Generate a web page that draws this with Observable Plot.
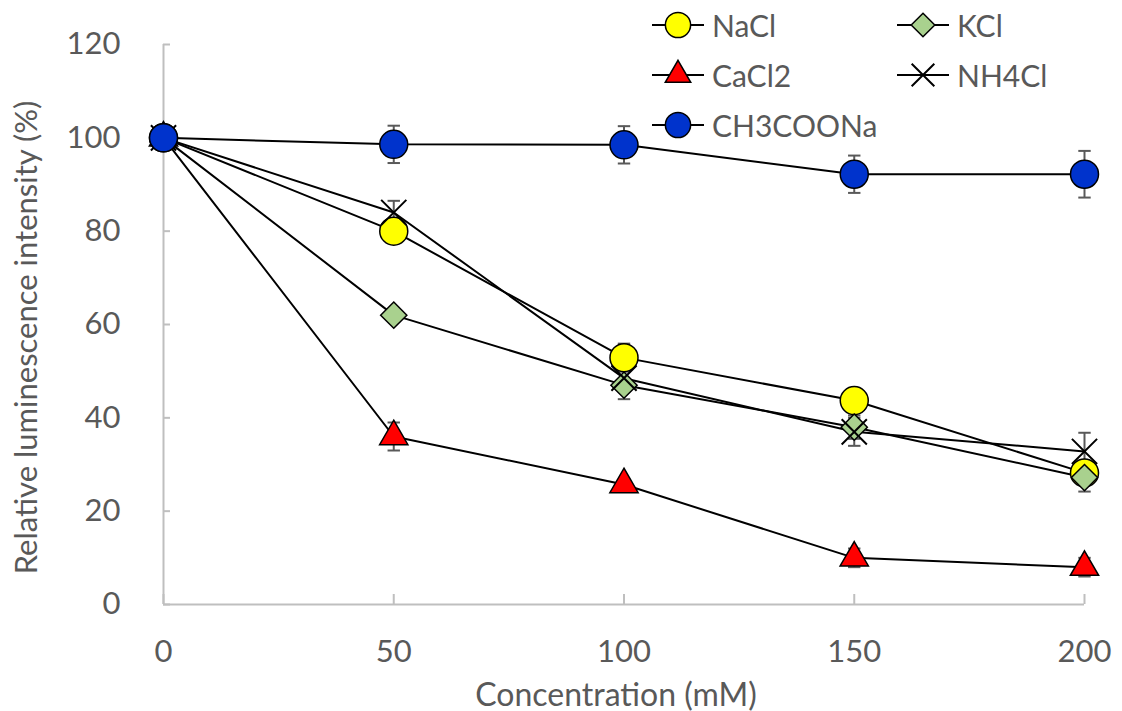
<!DOCTYPE html>
<html>
<head>
<meta charset="utf-8">
<script src="https://cdn.jsdelivr.net/npm/d3@7"></script>
<script src="https://cdn.jsdelivr.net/npm/@observablehq/plot@0.6"></script>
<style>
  html, body { margin: 0; padding: 0; background: #fff; }
  #wrap { position: relative; width: 1122px; height: 711px; font-family: Lato, "Open Sans", sans-serif; }
  #legend { position: absolute; left: 650px; top: 0px; display: grid; grid-template-columns: 245px 170px; grid-auto-rows: 50px; }
  .item { display: flex; align-items: center; height: 50px; font-size: 30px; color: #595959; }
  .item svg { flex: none; margin-right: 6px; }
</style>
</head>
<body>
<div id="wrap"><div id="legend"></div></div>
<script>
const concentrations = [0, 50, 100, 150, 200];
const seriesNames = ["NaCl", "KCl", "CaCl2", "NH4Cl", "CH3COONa"];
const nacl     = [100, 80.0, 52.9, 43.7, 28.2];
const kcl      = [100, 62.0, 47.0, 38.0, 27.2];
const cacl2    = [100, 36.0, 25.7, 10.0, 8.0];
const nh4cl    = [100, 84.0, 48.5, 37.0, 32.8];
const ch3coona = [100, 98.6, 98.5, 92.2, 92.2];
const naclErr     = [1, 1.5, 3, 1.5, 2];
const kclErr      = [1, 1, 3, 2.5, 3];
const cacl2Err    = [1, 3, 1, 2, 2];
const nh4clErr    = [2, 2.5, 2, 3, 4];
const ch3coonaErr = [2, 4, 4, 4, 5];
const yTicks = [0, 20, 40, 60, 80, 100, 120];
const xTicks = [0, 50, 100, 150, 200];
const xTitle = "Concentration (mM)";
const yTitle = "Relative luminescence intensity (%)";

const seriesValues = [nacl, kcl, cacl2, nh4cl, ch3coona];
const seriesErrors = [naclErr, kclErr, cacl2Err, nh4clErr, ch3coonaErr];
const seriesFill = ["#ffff00", "#a9d18e", "#ff0000", "none", "#0033cc"];
const seriesSymbol = ["circle", "diamond2", "triangle", "times", "circle"];
const seriesR = [14, 11.8, 10.5, 11.5, 14];

const data = [];
seriesNames.forEach((name, i) => {
  concentrations.forEach((c, j) => {
    data.push({series: name, idx: i, x: c, y: seriesValues[i][j], err: seriesErrors[i][j]});
  });
});

const capSymbol = {draw(ctx, size) { const w = Math.sqrt(size) * 0.5; ctx.moveTo(-w, 0); ctx.lineTo(w, 0); }};

const markerMarks = seriesNames.map((name, i) => Plot.dot(data.filter(d => d.idx === i), {
  x: "x", y: "y", symbol: () => seriesSymbol[i], r: seriesR[i],
  fill: seriesFill[i], stroke: "#000", strokeWidth: seriesSymbol[i] === "times" ? 2 : 1.5
}));

const chart = Plot.plot({
  width: 1122, height: 711,
  marginLeft: 163, marginRight: 38, marginTop: 44, marginBottom: 107,
  style: {fontFamily: "Lato, 'Open Sans', sans-serif", fontSize: "31px", color: "#595959", background: "#fff"},
  x: {domain: [0, 200]},
  y: {domain: [0, 120]},
  marks: [
    Plot.ruleX([0], {stroke: "#bfbfbf", strokeWidth: 2}),
    Plot.ruleY([0], {stroke: "#bfbfbf", strokeWidth: 2}),
    Plot.axisX({ticks: xTicks, tickSize: -10, text: null, label: null, stroke: "#bfbfbf", strokeWidth: 2}),
    Plot.axisX({ticks: xTicks, tickSize: 0, tickPadding: 35, label: null, fill: "#595959"}),
    Plot.axisY({ticks: yTicks, tickSize: -7, text: null, label: null, stroke: "#bfbfbf", strokeWidth: 2}),
    Plot.axisY({ticks: yTicks, tickSize: 0, tickPadding: 43, label: null, fill: "#595959"}),
    Plot.text([xTitle], {text: d => d, frameAnchor: "bottom", lineAnchor: "bottom", textAnchor: "middle", dx: -8, dy: 101, fontSize: 32, fill: "#595959"}),
    Plot.text([yTitle], {text: d => d, frameAnchor: "left", rotate: -90, lineAnchor: "top", textAnchor: "middle", dx: -149, dy: 13, fontSize: 31, fill: "#595959"}),
    Plot.ruleX(data, {x: "x", y1: d => d.y - d.err, y2: d => d.y + d.err, stroke: "#595959", strokeWidth: 2}),
    Plot.dot(data, {x: "x", y: d => d.y + d.err, symbol: capSymbol, r: 7, stroke: "#595959", strokeWidth: 2}),
    Plot.dot(data, {x: "x", y: d => d.y - d.err, symbol: capSymbol, r: 7, stroke: "#595959", strokeWidth: 2}),
    Plot.line(data, {x: "x", y: "y", z: "series", stroke: "#000", strokeWidth: 2}),
    ...markerMarks
  ]
});
document.getElementById("wrap").prepend(chart);
chart.style.position = "absolute"; chart.style.left = "0"; chart.style.top = "0";

// legend
const legend = d3.select("#legend");
const symMap = {circle: d3.symbolCircle, diamond2: d3.symbolDiamond2, triangle: d3.symbolTriangle, times: d3.symbolTimes};
seriesNames.forEach((name, i) => {
  const item = legend.append("div").attr("class", "item");
  const svg = item.append("svg").attr("width", 56).attr("height", 40);
  svg.append("line").attr("x1", 2).attr("x2", 54).attr("y1", 20).attr("y2", 20).attr("stroke", "#000").attr("stroke-width", 2);
  const size = Math.PI * Math.pow(seriesR[i] * 0.9, 2);
  svg.append("path").attr("transform", "translate(28,20)")
    .attr("d", d3.symbol(symMap[seriesSymbol[i]], size)())
    .attr("fill", seriesFill[i]).attr("stroke", "#000").attr("stroke-width", seriesSymbol[i] === "times" ? 2 : 1.5);
  item.append("span").text(name);
});
</script>
</body>
</html>
